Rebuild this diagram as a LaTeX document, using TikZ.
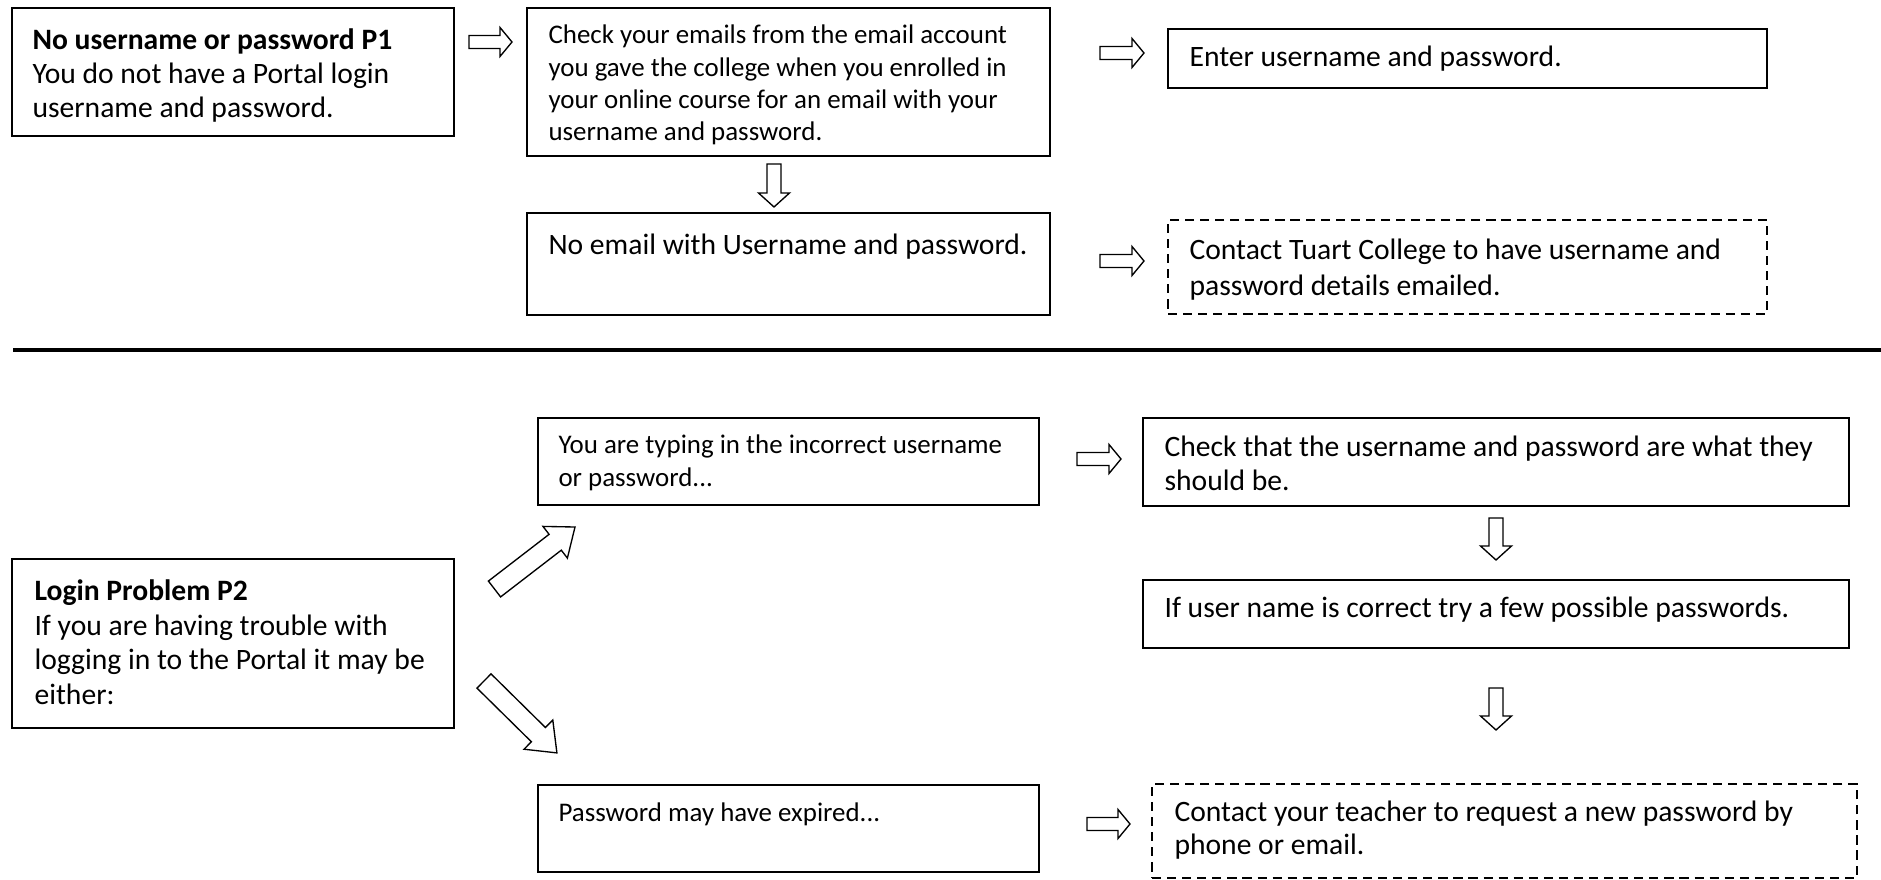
\documentclass[tikz,border=0pt]{standalone}
\usepackage{fontspec}
\setmainfont{Carlito}
\usetikzlibrary{fit}

% hollow block arrow: #1 name, #2 tail centre, #3 angle, #4 length,
% #5 shaft half width, #6 head half width, #7 head length
\newcommand{\blockarrow}[7]{%
  \begin{scope}[shift={#2}, rotate=#3]
    \draw[arrowline] (0,-#5) coordinate (#1-tail)
      -- ({#4-#7},-#5) -- ({#4-#7},-#6) -- (#4,0) coordinate (#1-tip)
      -- ({#4-#7},#6) -- ({#4-#7},#5) -- (0,#5) -- cycle;
  \end{scope}}
\newcommand{\lines}[1]{\begin{tabular}[t]{@{}l@{}}#1\end{tabular}}

\begin{document}
\begin{tikzpicture}[x=0.3716pt, y=-0.3716pt,
  box/.style={draw=black, line width=0.6pt, fill=white, inner sep=0pt},
  dbox/.style={box, dash pattern=on 3.4pt off 2.2pt},
  bigtext/.style={anchor=base west, inner sep=0pt},
  smalltext/.style={anchor=base west, inner sep=0pt},
  arrowline/.style={draw=black, line width=0.5pt, fill=white, line join=miter}]

\useasboundingbox (0,0) rectangle (1881,880);

% ---------- P1: no username or password ----------
\node[box, fit={(12,8) (454,136)}] (p1) {};
\node[bigtext, font=\fontsize{11}{12.5}\selectfont] (p1t) at (32,50)
  {\lines{\textbf{No username or password P1}\\You do not have a Portal login\\username and password.}};

\node[box, fit={(527,8) (1050,156)}] (chk) {};
\node[smalltext, font=\fontsize{10}{11.9}\selectfont] (chkt) at (548,44)
  {\lines{Check your emails from the email account\\you gave the college when you enrolled in\\your online course for an email with your\\username and password.}};

\node[box, fit={(527,213) (1050,315)}] (noem) {};
\node[bigtext, font=\fontsize{11}{13}\selectfont] (noemt) at (548,255)
  {No email with Username and password.};

\node[box, fit={(1168,29) (1767,88)}] (ent) {};
\node[bigtext, font=\fontsize{11}{13}\selectfont] (entt) at (1189,67)
  {Enter username and password.};

\node[dbox, fit={(1168,220) (1767,314)}] (tuart) {};
\node[bigtext, font=\fontsize{11}{13.2}\selectfont] (tuartt) at (1189,260)
  {\lines{Contact Tuart College to have username and\\password details emailed.}};

\blockarrow{a1}{(469,42)}{0}{43}{6.5}{14.5}{12}
\blockarrow{a2}{(1100,53)}{0}{44}{6.5}{14.5}{12}
\blockarrow{a3}{(1100,261)}{0}{44}{6.5}{14.5}{12}
\blockarrow{d1}{(774,164)}{-90}{43}{7}{15.5}{14}

% ---------- separator ----------
\coordinate (sepl) at (13,350);
\coordinate (sepr) at (1881,350);
\draw[line width=1.5pt] (sepl) -- (sepr);

% ---------- P2: login problem ----------
\node[box, fit={(12,559) (454,728)}] (p2) {};
\node[bigtext, font=\fontsize{11}{12.8}\selectfont] (p2t) at (34,601)
  {\lines{\textbf{Login Problem P2}\\If you are having trouble with\\logging in to the Portal it may be\\either:}};

\node[box, fit={(538,418) (1039,505)}] (typ) {};
\node[smalltext, font=\fontsize{10}{12}\selectfont] (typt) at (558,454)
  {\lines{You are typing in the incorrect username\\or password...}};

\node[box, fit={(538,785) (1039,872)}] (exp) {};
\node[smalltext, font=\fontsize{10}{12.3}\selectfont] (expt) at (558,821)
  {Password may have expired...};

\node[box, fit={(1143,418) (1849,506)}] (chkthat) {};
\node[bigtext, font=\fontsize{11}{12.5}\selectfont] (chkthatt) at (1164,457)
  {\lines{Check that the username and password are what they\\should be.}};

\node[box, fit={(1143,580) (1849,648)}] (ifuser) {};
\node[bigtext, font=\fontsize{11}{13}\selectfont] (ifusert) at (1164,618)
  {If user name is correct try a few possible passwords.};

\node[dbox, fit={(1152,784) (1857,878)}] (teach) {};
\node[bigtext, font=\fontsize{11}{12.6}\selectfont] (teacht) at (1174,821)
  {\lines{Contact your teacher to request a new password by\\phone or email.}};

\blockarrow{u1}{(494.5,589)}{37.6}{101.6}{10}{20}{25}
\blockarrow{u2}{(484,681)}{-44.6}{102.4}{10}{20.5}{26}
\blockarrow{r1}{(1077,459)}{0}{44}{6.5}{14.5}{12}
\blockarrow{r2}{(1087,824)}{0}{43}{6.5}{14.5}{12}
\blockarrow{d2}{(1496,518)}{-90}{42}{7}{15.5}{14}
\blockarrow{d3}{(1496,688)}{-90}{42}{7}{15.5}{14}

\end{tikzpicture}
\end{document}
